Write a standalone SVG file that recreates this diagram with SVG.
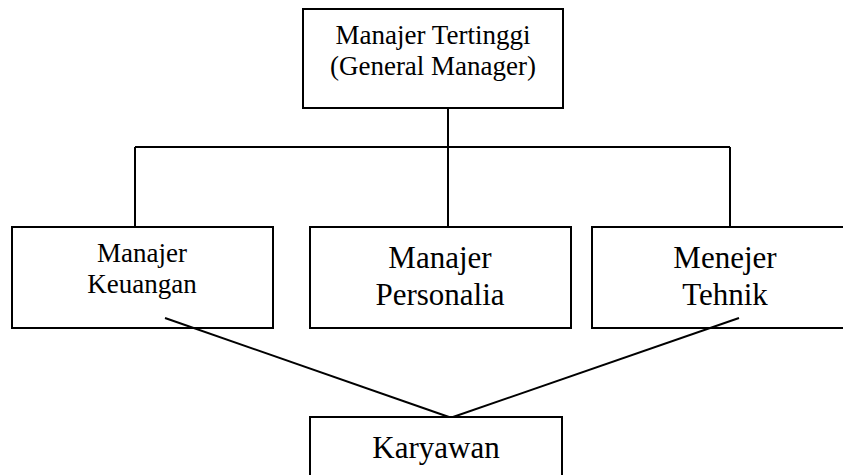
<svg xmlns="http://www.w3.org/2000/svg" width="843" height="475" viewBox="0 0 843 475">
  <style>
    .box { fill: #ffffff; stroke: #000000; stroke-width: 2; }
    .link { fill: none; stroke: #000000; stroke-width: 2; }
    .t { font-family: "Liberation Serif", "Times New Roman", serif; fill: #000000; text-anchor: middle; }
    .s { font-size: 27px; }
    .l { font-size: 31px; }
  </style>
  <rect width="843" height="475" fill="#ffffff"/>

  <g id="general-manager">
    <rect class="box" x="303" y="9" width="260" height="99"/>
    <text class="t s" x="433" y="44">Manajer Tertinggi</text>
    <text class="t s" x="433" y="75">(General Manager)</text>
  </g>

  <g id="manajer-keuangan">
    <rect class="box" x="12" y="227" width="261" height="101"/>
    <text class="t s" x="142" y="262">Manajer</text>
    <text class="t s" x="142" y="293">Keuangan</text>
  </g>

  <g id="manajer-personalia">
    <rect class="box" x="310" y="227" width="261" height="101"/>
    <text class="t l" x="440" y="268">Manajer</text>
    <text class="t l" x="440" y="305">Personalia</text>
  </g>

  <g id="menejer-tehnik">
    <rect class="box" x="592" y="227" width="270" height="101"/>
    <text class="t l" x="725" y="268">Menejer</text>
    <text class="t l" x="725" y="305">Tehnik</text>
  </g>

  <g id="karyawan">
    <rect class="box" x="310" y="417" width="252" height="80"/>
    <text class="t l" x="436" y="458">Karyawan</text>
  </g>

  <!-- connectors, drawn last so the diagonals cross the box edges -->
  <g id="connectors">
    <path class="link" d="M448 108 V147"/>
    <path class="link" d="M135 147 H730"/>
    <path class="link" d="M135 147 V227"/>
    <path class="link" d="M448 147 V227"/>
    <path class="link" d="M730 147 V227"/>
    <path class="link" d="M165 318 L449 417"/>
    <path class="link" d="M739 318 L453 417"/>
  </g>
</svg>
